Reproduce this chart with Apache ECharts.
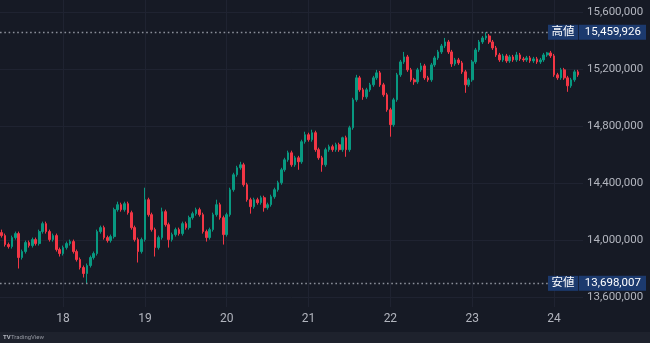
<!DOCTYPE html>
<html><head><meta charset="utf-8">
<script src="https://cdn.jsdelivr.net/npm/echarts@6/dist/echarts.min.js"></script>
<style>html,body{margin:0;padding:0;background:#161a25;}#c{width:650px;height:343px;}</style>
</head><body><div id="c"></div>
<script>
// hourly candles, first slot = 17th 06:00, 171 slots shown
const startDay = 17, startHour = 6, slotCount = 171;
const dayLabels = ['18','19','20','21','22','23','24'];
const yMin = 13600000, yMax = 15600000, yStep = 400000;
const HIGH = 15459926, LOW = 13698007;
const markNames = ['高値', '安値'];
// prices in thousand JPY
const opens = [
14054,14033,13970,13956,14019,14047,13879,13921,13984,13963,
14005,13977,14061,14117,14061,14005,14033,13935,13907,13949,
13977,13991,13921,13865,13809,13767,13823,13879,13907,14061,
14089,14019,13998,14026,14215,14250,14215,14257,14194,14089,
14005,13921,14005,14285,14180,14075,13949,14019,14201,14110,
14005,14040,14075,14047,14117,14089,14159,14187,14215,14180,
14061,14019,14075,14180,14250,14159,14040,14180,14355,14460,
14509,14530,14390,14285,14236,14285,14264,14299,14229,14250,
14306,14355,14404,14495,14565,14614,14530,14579,14551,14692,
14741,14706,14755,14636,14579,14530,14636,14657,14636,14671,
14636,14720,14636,14790,14986,15140,15056,15007,15056,15091,
15140,15175,15091,15021,14916,14811,14986,15161,15252,15287,
15196,15126,15112,15196,15224,15140,15126,15231,15280,15322,
15364,15392,15322,15238,15266,15245,15182,15091,15126,15252,
15336,15392,15420,15434,15392,15350,15301,15266,15294,15259,
15287,15266,15301,15273,15266,15280,15259,15273,15252,15266,
15301,15315,15294,15161,15140,15196,15140,15084,15126,15182];
const closes = [
14033,13970,13956,14019,14047,13879,13921,13984,13963,14005,
13977,14061,14117,14061,14005,14033,13935,13907,13949,13977,
13991,13921,13865,13809,13767,13823,13879,13907,14061,14089,
14019,13998,14026,14215,14250,14215,14257,14194,14089,14005,
13921,14005,14285,14180,14075,13949,14019,14201,14110,14005,
14040,14075,14047,14117,14089,14159,14187,14215,14180,14061,
14019,14075,14180,14250,14159,14040,14180,14355,14460,14509,
14530,14390,14285,14236,14285,14264,14299,14229,14250,14306,
14355,14404,14495,14565,14614,14530,14579,14551,14692,14741,
14706,14755,14636,14579,14530,14636,14657,14636,14671,14636,
14720,14636,14790,14986,15140,15056,15007,15056,15091,15140,
15175,15091,15021,14916,14811,14986,15161,15252,15287,15196,
15126,15112,15196,15224,15140,15126,15231,15280,15322,15364,
15392,15322,15238,15266,15245,15182,15091,15126,15252,15336,
15392,15420,15434,15392,15350,15301,15266,15294,15259,15287,
15266,15301,15273,15266,15280,15259,15273,15252,15266,15301,
15315,15294,15161,15140,15196,15140,15084,15126,15182,15161];
const highs = [
14075,14047,13984,14033,14061,14061,13935,13998,13998,14019,
14019,14075,14131,14131,14075,14047,14047,13949,13963,13991,
14005,14005,13935,13879,13823,13837,13893,13921,14075,14103,
14103,14033,14040,14229,14271,14264,14271,14271,14208,14103,
14019,14019,14369,14299,14194,14089,14033,14229,14215,14124,
14054,14089,14089,14131,14131,14173,14201,14229,14229,14194,
14075,14089,14194,14285,14264,14173,14194,14369,14474,14523,
14551,14544,14404,14299,14299,14299,14313,14313,14264,14320,
14369,14418,14509,14579,14629,14629,14593,14593,14706,14762,
14755,14776,14769,14650,14593,14650,14671,14671,14685,14685,
14727,14734,14804,15000,15161,15154,15070,15070,15105,15154,
15196,15189,15105,15035,14930,15000,15175,15266,15322,15301,
15210,15140,15210,15245,15238,15154,15245,15294,15336,15378,
15420,15406,15336,15280,15280,15259,15196,15140,15266,15350,
15406,15434,15459.926,15448,15406,15364,15315,15308,15308,15301,
15301,15322,15315,15287,15294,15294,15287,15287,15280,15315,
15322,15329,15308,15175,15210,15210,15154,15140,15196,15196];
const lows = [
14019,13956,13942,13942,14005,13802,13865,13907,13949,13949,
13963,13963,14047,14047,13991,13991,13921,13886,13893,13935,
13963,13907,13851,13795,13739,13698.007,13809,13865,13893,14047,
14005,13984,13984,14012,14201,14201,14201,14180,14075,13991,
13844,13907,13991,14166,14061,13886,13935,14005,14096,13949,
13991,14026,14033,14033,14075,14075,14145,14173,14166,14047,
13991,14005,14061,14166,14145,13970,14026,14166,14341,14446,
14495,14376,14271,14187,14222,14250,14250,14201,14215,14236,
14292,14341,14390,14481,14551,14516,14516,14495,14537,14678,
14692,14692,14621,14565,14481,14516,14621,14621,14621,14621,
14621,14586,14621,14776,14972,15042,14986,14993,15042,15077,
15126,15077,15007,14902,14727,14797,14972,15147,15238,15182,
15112,15091,15098,15182,15126,15112,15112,15217,15266,15308,
15350,15308,15217,15224,15231,15168,15035,15077,15112,15238,
15322,15378,15406,15378,15336,15287,15252,15252,15245,15245,
15252,15252,15259,15252,15252,15245,15245,15238,15238,15252,
15287,15280,15147,15126,15126,15126,15042,15070,15112,15147];

const categories = [];
for (let i = 0; i < slotCount; i++) {
  const hr = startHour + i;
  const d = startDay + Math.floor(hr / 24);
  const h = hr % 24;
  categories.push(d + ' ' + (h < 10 ? '0' : '') + h + ':00');
}
const K = 1000;
const candleData = opens.map((o, i) => [
  Math.round(o * K), Math.round(closes[i] * K), Math.round(lows[i] * K), Math.round(highs[i] * K)
]);
const isDayStart = (idx, val) => /\s00:00$/.test(val);
const fmt = v => Math.round(v).toLocaleString('en-US');
const FONT = 'Roboto, "Noto Sans CJK JP", sans-serif';
const BOX = '#1c3a6e';

const chart = echarts.init(document.getElementById('c'), null, {renderer: 'canvas'});
chart.setOption({
  backgroundColor: '#161a25',
  animation: false,
  grid: [
    {left: 0, right: 67, top: 12.3, bottom: 45.7},
    {left: 0, right: 67, top: 0, bottom: 36}
  ],
  xAxis: [
    {type: 'category', gridIndex: 0, data: categories, boundaryGap: true,
     axisLine: {show: false}, axisTick: {show: false}, axisLabel: {show: false}, splitLine: {show: false}},
    {type: 'category', gridIndex: 1, data: categories, boundaryGap: true,
     axisLine: {show: false}, axisTick: {show: false, alignWithLabel: true, interval: isDayStart},
     axisLabel: {interval: isDayStart, margin: 6, color: '#b2b5be', fontSize: 12, fontFamily: FONT,
       formatter: v => String(parseInt(v, 10))},
     splitLine: {show: true, interval: isDayStart, alignWithLabel: true, lineStyle: {color: '#1f2331', width: 1}}}
  ],
  yAxis: [
    {type: 'value', gridIndex: 0, position: 'right', min: yMin, max: yMax, interval: yStep, scale: true,
     axisLine: {show: false}, axisTick: {show: false},
     axisLabel: {margin: 4, color: '#b2b5be', fontSize: 11.5, fontFamily: FONT, formatter: v => fmt(v)},
     splitLine: {show: true, lineStyle: {color: '#1f2331', width: 1}}},
    {type: 'value', gridIndex: 1, show: false, min: 0, max: 1}
  ],
  series: [{
    type: 'candlestick',
    xAxisIndex: 0, yAxisIndex: 0,
    data: candleData,
    barWidth: '62%',
    itemStyle: {color: '#089981', color0: '#f23645', borderColor: '#089981', borderColor0: '#f23645', borderWidth: 1},
    markLine: {
      silent: true,
      symbol: ['none', 'none'],
      lineStyle: {color: '#8b8f9a', type: [1.6, 2.7], width: 1.3},
      label: {
        show: true, position: 'end', distance: -35,
        formatter: p => '{n|' + p.name + '}{s| }{v|' + fmt(p.value) + '}',
        rich: {
          n: {width: 30, height: 15, align: 'center', backgroundColor: BOX, color: '#ffffff', fontSize: 11.5, fontFamily: FONT},
          s: {width: 1, height: 15, backgroundColor: '#16213a', fontSize: 11.5},
          v: {width: 62, height: 15, align: 'right', padding: [0, 5, 0, 0], backgroundColor: BOX, color: '#ffffff', fontSize: 11.5, fontFamily: FONT}
        }
      },
      data: [
        {name: markNames[0], yAxis: HIGH},
        {name: markNames[1], yAxis: LOW}
      ]
    }
  }],
  graphic: [
    {type: 'rect', left: 0, bottom: 0, silent: true, shape: {width: 650, height: 11}, style: {fill: '#1e222d'}},
    {type: 'text', left: 3, bottom: 2.5, silent: true, style: {text: 'TV', fontSize: 6, fontWeight: 'bold', fill: '#b2b5be', fontFamily: FONT}},
    {type: 'text', left: 11, bottom: 2.5, silent: true, style: {text: 'TradingView', fontSize: 6, fill: '#9598a1', fontFamily: FONT}}
  ]
});
</script>
</body></html>
